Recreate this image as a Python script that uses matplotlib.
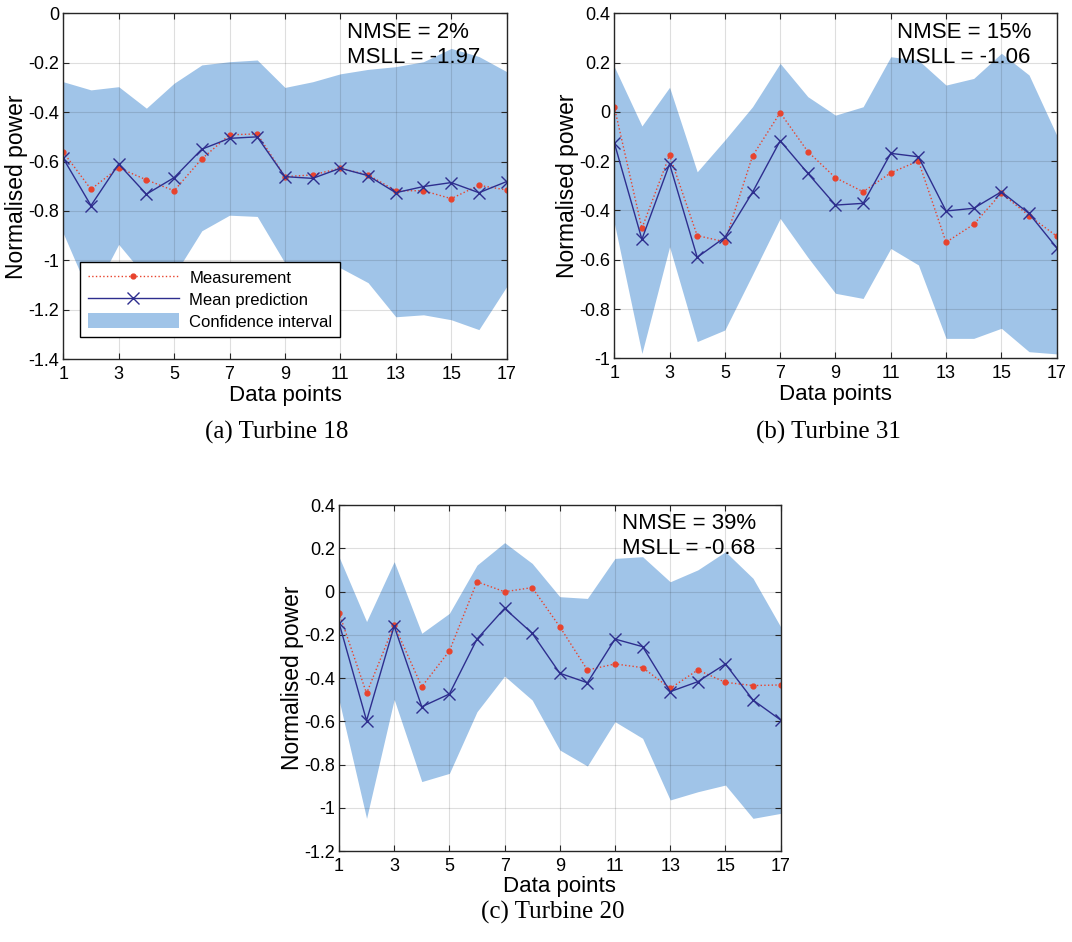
import matplotlib.pyplot as plt
from matplotlib.ticker import FormatStrFormatter

x = list(range(1, 18))

# Turbine 18
meas_a = [-0.562, -0.712, -0.625, -0.674, -0.718, -0.589, -0.492, -0.488, -0.661,
          -0.654, -0.627, -0.654, -0.718, -0.718, -0.750, -0.696, -0.715]
pred_a = [-0.587, -0.778, -0.610, -0.732, -0.665, -0.550, -0.506, -0.500, -0.661,
          -0.668, -0.627, -0.657, -0.726, -0.701, -0.685, -0.726, -0.681]
upper_a = [-0.277, -0.310, -0.297, -0.384, -0.283, -0.209, -0.196, -0.189, -0.300,
           -0.277, -0.245, -0.227, -0.216, -0.196, -0.142, -0.175, -0.236]
lower_a = [-0.890, -1.150, -0.935, -1.070, -1.060, -0.880, -0.817, -0.822, -1.010,
           -1.020, -1.030, -1.090, -1.228, -1.220, -1.240, -1.280, -1.106]

# Turbine 31
meas_b = [0.021, -0.472, -0.175, -0.502, -0.527, -0.179, -0.003, -0.161, -0.267,
          -0.324, -0.247, -0.199, -0.529, -0.456, -0.330, -0.421, -0.504]
pred_b = [-0.125, -0.517, -0.211, -0.590, -0.509, -0.326, -0.117, -0.249, -0.378,
          -0.371, -0.168, -0.182, -0.402, -0.391, -0.324, -0.412, -0.551]
upper_b = [0.184, -0.057, 0.100, -0.243, -0.114, 0.021, 0.197, 0.062, -0.013,
           0.021, 0.224, 0.210, 0.109, 0.136, 0.238, 0.150, -0.094]
lower_b = [-0.450, -0.980, -0.547, -0.932, -0.885, -0.660, -0.432, -0.590, -0.736,
           -0.757, -0.554, -0.621, -0.919, -0.919, -0.878, -0.973, -0.982]

# Turbine 20
meas_c = [-0.098, -0.471, -0.155, -0.440, -0.275, 0.045, -0.001, 0.018, -0.163,
          -0.363, -0.335, -0.352, -0.448, -0.363, -0.420, -0.435, -0.432]
pred_c = [-0.144, -0.597, -0.160, -0.533, -0.474, -0.220, -0.078, -0.193, -0.378,
          -0.422, -0.220, -0.255, -0.463, -0.417, -0.335, -0.502, -0.594]
upper_c = [0.161, -0.139, 0.138, -0.193, -0.101, 0.122, 0.226, 0.130, -0.024,
           -0.032, 0.153, 0.161, 0.045, 0.100, 0.184, 0.061, -0.163]
lower_c = [-0.500, -1.049, -0.499, -0.879, -0.841, -0.556, -0.391, -0.502, -0.733,
           -0.807, -0.602, -0.679, -0.964, -0.926, -0.895, -1.049, -1.026]

scores = [("NMSE = 2%", "MSLL = -1.97"),
          ("NMSE = 15%", "MSLL = -1.06"),
          ("NMSE = 39%", "MSLL = -0.68")]
captions = ["(a) Turbine 18", "(b) Turbine 31", "(c) Turbine 20"]
ylims = [(-1.4, 0), (-1, 0.4), (-1.2, 0.4)]

plt.rcParams['font.family'] = ['Liberation Sans', 'DejaVu Sans']

fill_col = '#A0C4E8'
pred_col = '#2E2E8E'
meas_col = '#E8432D'
axis_col = '#262626'


def panel(ax, meas, pred, lo, hi, ylim, score):
    ax.fill_between(x, lo, hi, color=fill_col, lw=0, zorder=1,
                    label='Confidence interval')
    ax.plot(x, meas, ':', color=meas_col, lw=1.0, marker='.', ms=7,
            zorder=3, label='Measurement')
    ax.plot(x, pred, '-', color=pred_col, lw=1.0, marker='x', ms=8, mew=1.0,
            zorder=4, label='Mean prediction')
    ax.set_xlim(1, 17)
    ax.set_ylim(*ylim)
    ax.set_xticks(range(1, 18, 2))
    yt = []
    v = ylim[0]
    while v <= ylim[1] + 1e-9:
        yt.append(round(v, 1) + 0.0)
        v += 0.2
    ax.set_yticks(yt)
    ax.yaxis.set_major_formatter(FormatStrFormatter('%g'))
    ax.set_axisbelow(False)
    ax.grid(True, color=axis_col, alpha=0.15, lw=0.8)
    ax.tick_params(direction='in', top=True, right=True, length=4,
                   width=0.8, labelsize=13, colors=axis_col)
    ax.tick_params(labelcolor='black')
    ax.tick_params(axis='x', pad=5)
    ax.tick_params(axis='y', pad=3)
    for s in ax.spines.values():
        s.set_color(axis_col)
        s.set_linewidth(1.0)
        s.set_zorder(5)
    ax.set_xlabel('Data points', fontsize=16, labelpad=1)
    ax.set_ylabel('Normalised power', fontsize=16.5, labelpad=0)
    ax.text(0.64, 0.976, score[0] + '\n' + score[1], transform=ax.transAxes,
            fontsize=16, va='top', ha='left', linespacing=1.25, zorder=6)


fig = plt.figure(figsize=(10.72, 9.42), dpi=100)
ax_a = fig.add_axes([0.0590, 0.6186, 0.4136, 0.3673])
ax_b = fig.add_axes([0.5730, 0.6196, 0.4127, 0.3662])
ax_c = fig.add_axes([0.3162, 0.0966, 0.4120, 0.3673])

panel(ax_a, meas_a, pred_a, lower_a, upper_a, ylims[0], scores[0])
panel(ax_b, meas_b, pred_b, lower_b, upper_b, ylims[1], scores[1])
panel(ax_c, meas_c, pred_c, lower_c, upper_c, ylims[2], scores[2])

h, l = ax_a.get_legend_handles_labels()
order = [1, 2, 0]
leg = ax_a.legend([h[i] for i in order], [l[i] for i in order],
                  loc='lower left', bbox_to_anchor=(0.038, 0.064),
                  borderaxespad=0, fontsize=12, frameon=True, fancybox=False,
                  edgecolor='black', framealpha=1, handlelength=5.5,
                  handleheight=1.0, handletextpad=0.6, labelspacing=0.35,
                  borderpad=0.45)
leg.get_frame().set_linewidth(1.0)
leg.set_zorder(7)

# sub-figure captions
cap_font = dict(fontsize=18, family=['Liberation Serif', 'DejaVu Serif'],
                ha='center', va='center')
fig.text(277 / 1072, 1 - 432 / 942, captions[0], **cap_font)
fig.text(828 / 1072, 1 - 432 / 942, captions[1], **cap_font)
fig.text(553 / 1072, 1 - 912 / 942, captions[2], **cap_font)

fig.savefig('out.png', dpi=100)
